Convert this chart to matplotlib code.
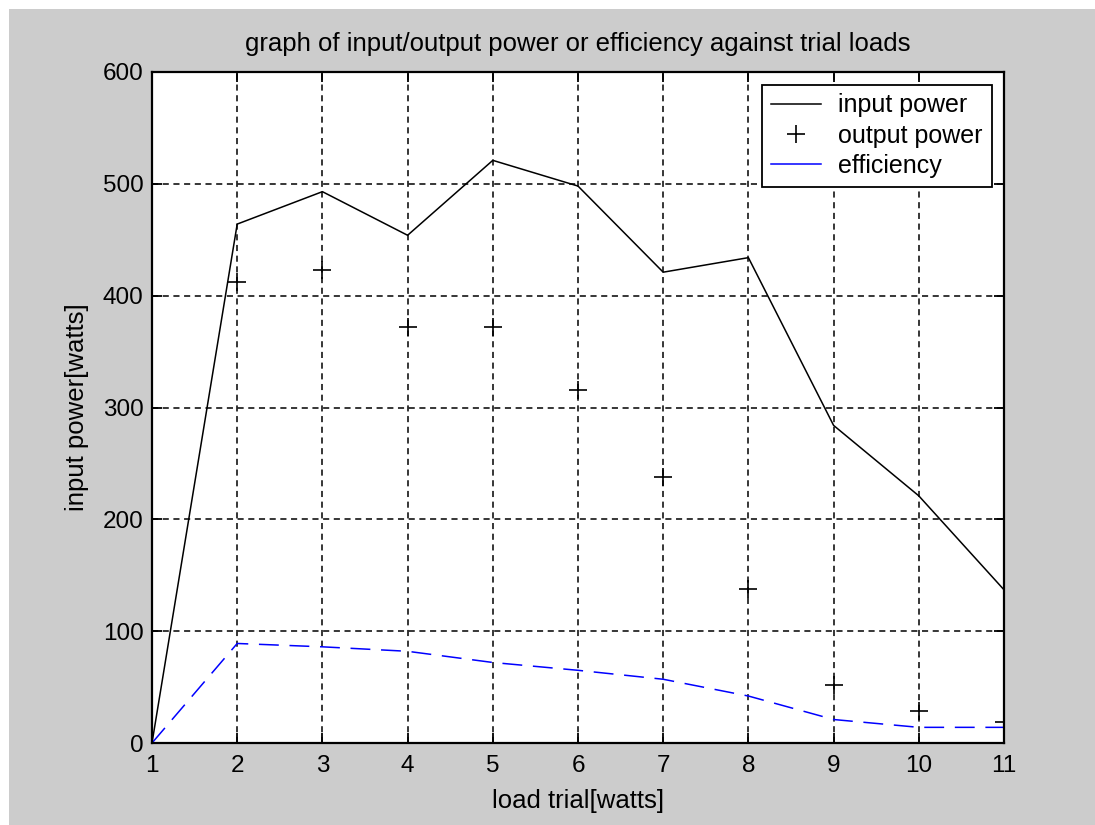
import numpy as np
import matplotlib
matplotlib.use("Agg")
import matplotlib.pyplot as plt
from matplotlib.patches import Rectangle

# values
load_trial = [1, 2, 3, 4, 5, 6, 7, 8, 9, 10, 11]
input_power = [0, 464, 493, 454, 521, 498, 421, 434, 284, 221, 137]
output_power = [0, 412, 423, 372, 372, 316, 238, 138, 52, 29, 19]
efficiency = [0, 89, 86, 82, 72, 65, 57, 42, 21, 14, 14]

plt.rcParams['font.family'] = ['Liberation Sans', 'DejaVu Sans']

fig = plt.figure(figsize=(10.95, 8.25), dpi=100, facecolor="white")
# gray panel with a thin white margin on the top and left
fig.patches.append(Rectangle((9 / 1095, 0), 1, 1 - 9 / 825, transform=fig.transFigure,
                             facecolor="#cccccc", edgecolor="none", zorder=-10))

ax = fig.add_axes([152 / 1095, 1 - 743 / 825, (1004 - 152) / 1095, (743 - 72) / 825])
ax.set_facecolor("white")

ax.plot(load_trial, input_power, color="black", lw=1.1, label="input power")
ax.plot(load_trial, output_power, linestyle="none", marker="+", color="black",
        markersize=13, markeredgewidth=1.2, label="output power")
ax.plot(load_trial, efficiency, color="#0000ff", lw=1.1, dashes=(13, 7), label="efficiency")

ax.set_xlim(1, 11)
ax.set_ylim(0, 600)
ax.set_xticks(range(1, 12))
ax.set_yticks(range(0, 601, 100))
ax.grid(True, color="black", linestyle=(0, (4, 3)), lw=1.1)

ax.tick_params(direction="in", length=7, width=1.3, top=True, right=True,
               labelsize=17.5, pad=6)
ax.tick_params(axis="x", pad=9)
for s in ax.spines.values():
    s.set_linewidth(1.6)

ax.set_title("graph of input/output power or efficiency against trial loads",
             fontsize=18.5, pad=15)
ax.set_xlabel("load trial[watts]", fontsize=18.5, labelpad=8)
ax.set_ylabel("input power[watts]", fontsize=18.5, labelpad=10)

leg = ax.legend(loc="upper right", fontsize=18, fancybox=False, framealpha=1,
                edgecolor="black", handlelength=2.0, borderaxespad=0.5,
                borderpad=0.35, labelspacing=0.25, handletextpad=0.7)
leg.get_frame().set_linewidth(1.3)
for h in leg.legend_handles:
    if h.get_linestyle() not in ("None", "none"):
        h.set_linestyle("-")

fig.savefig("out.png", dpi=100, facecolor=fig.get_facecolor())
